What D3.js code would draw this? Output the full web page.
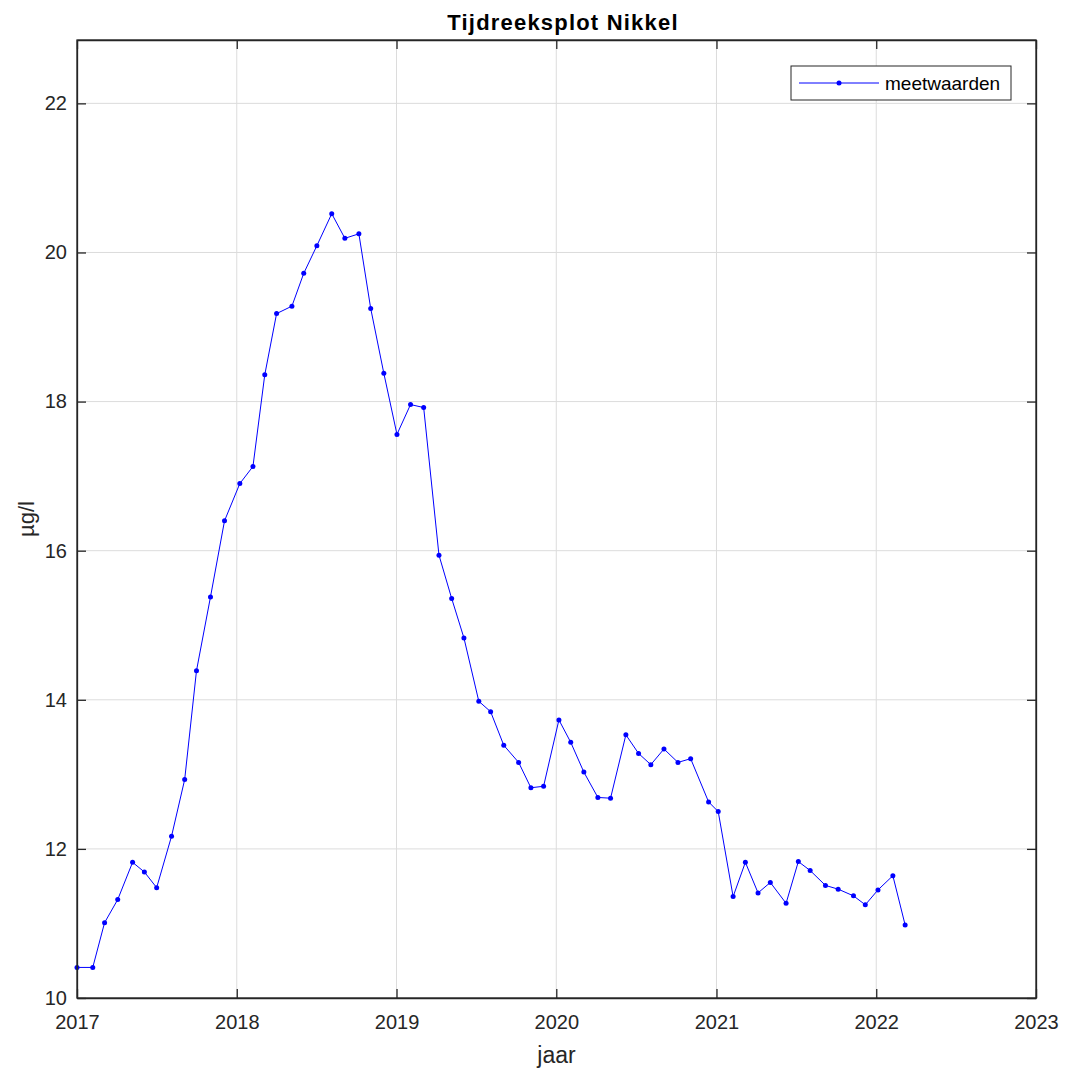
<!DOCTYPE html>
<html>
<head>
<meta charset="utf-8">
<script src="https://cdn.jsdelivr.net/npm/d3@7"></script>
<style>
  html, body { margin: 0; padding: 0; background: #fff; }
  svg { display: block; font-family: "Liberation Sans", Arial, Helvetica, sans-serif; }
</style>
</head>
<body>
<svg id="chart" width="1067" height="1071"></svg>
<script>
// Sample dates (roughly monthly) and nickel concentrations in µg/l
const dates = [
  "2017-01-01","2017-02-06","2017-03-05","2017-04-04","2017-05-08","2017-06-04",
  "2017-07-02","2017-08-05","2017-09-04","2017-10-01","2017-11-02","2017-12-04",
  "2018-01-08","2018-02-07","2018-03-06","2018-04-02","2018-05-07","2018-06-03",
  "2018-07-03","2018-08-06","2018-09-05","2018-10-07","2018-11-03","2018-12-03",
  "2019-01-02","2019-02-02","2019-03-04","2019-04-08","2019-05-07","2019-06-04",
  "2019-07-08","2019-08-04","2019-09-03","2019-10-07","2019-11-04","2019-12-03",
  "2020-01-07","2020-02-03","2020-03-04","2020-04-05","2020-05-04","2020-06-08",
  "2020-07-07","2020-08-04","2020-09-03","2020-10-05","2020-11-03","2020-12-14",
  "2021-01-05","2021-02-08","2021-03-08","2021-04-06","2021-05-04","2021-06-09",
  "2021-07-07","2021-08-03","2021-09-07","2021-10-06","2021-11-10","2021-12-07",
  "2022-01-05","2022-02-08","2022-03-08"
];
const values = [
  10.41, 10.41, 11.01, 11.32, 11.82, 11.69, 11.48, 12.17, 12.93, 14.39, 15.38, 16.40,
  16.90, 17.13, 18.36, 19.18, 19.28, 19.72, 20.09, 20.52, 20.19, 20.25, 19.25, 18.38,
  17.56, 17.96, 17.92, 15.94, 15.36, 14.83, 13.98, 13.84, 13.39, 13.16, 12.82, 12.84,
  13.73, 13.43, 13.03, 12.69, 12.68, 13.53, 13.28, 13.13, 13.34, 13.16, 13.21, 12.63,
  12.50, 11.36, 11.82, 11.41, 11.55, 11.27, 11.83, 11.71, 11.51, 11.46, 11.37, 11.25,
  11.45, 11.64, 10.98
];
const xTickYears = [2017, 2018, 2019, 2020, 2021, 2022, 2023];
const yTicks = [10, 12, 14, 16, 18, 20, 22];

const title = "Tijdreeksplot Nikkel";
const xLabel = "jaar";
const yLabel = "µg/l";
const seriesName = "meetwaarden";

const svg = d3.select("#chart");
const m = { left: 77, right: 1036, top: 40, bottom: 998 };
const axisColor = "#262626";
const gridColor = "#dcdcdc";
const lineColor = "#0000ff";
const tickLen = 9;

const parse = d3.timeParse("%Y-%m-%d");
const data = dates.map((d, i) => ({ date: parse(d), value: values[i] }));

const x = d3.scaleTime()
  .domain([new Date(2017, 0, 1), new Date(2023, 0, 1)])
  .range([m.left, m.right]);
const y = d3.scaleLinear()
  .domain([10, 22.85])
  .range([m.bottom, m.top]);

const xTicks = xTickYears.map(yr => new Date(yr, 0, 1));

// Grid
const grid = svg.append("g");
grid.selectAll("line.gx").data(xTicks.slice(1, -1)).join("line")
  .attr("x1", d => x(d)).attr("x2", d => x(d))
  .attr("y1", m.top).attr("y2", m.bottom)
  .attr("stroke", gridColor).attr("stroke-width", 1);
grid.selectAll("line.gy").data(yTicks.slice(1)).join("line")
  .attr("x1", m.left).attr("x2", m.right)
  .attr("y1", d => y(d)).attr("y2", d => y(d))
  .attr("stroke", gridColor).attr("stroke-width", 1);

// Series line and markers
const line = d3.line().x(d => x(d.date)).y(d => y(d.value));
svg.append("path").datum(data)
  .attr("d", line)
  .attr("fill", "none")
  .attr("stroke", lineColor)
  .attr("stroke-width", 1);
svg.append("g").selectAll("circle").data(data).join("circle")
  .attr("cx", d => x(d.date)).attr("cy", d => y(d.value))
  .attr("r", 2.5).attr("fill", lineColor);

// Axes: bottom and left with labels, top and right as mirrored inward ticks
const fontSize = 20;
const bottomAxis = d3.axisBottom(x).tickValues(xTicks)
  .tickFormat(d3.timeFormat("%Y")).tickSizeInner(-tickLen).tickSizeOuter(0).tickPadding(17);
const leftAxis = d3.axisLeft(y).tickValues(yTicks)
  .tickFormat(d3.format("d")).tickSizeInner(-tickLen).tickSizeOuter(0).tickPadding(10);
const topAxis = d3.axisTop(x).tickValues(xTicks).tickFormat("").tickSizeInner(-tickLen).tickSizeOuter(0);
const rightAxis = d3.axisRight(y).tickValues(yTicks).tickFormat("").tickSizeInner(-tickLen).tickSizeOuter(0);

function styleAxis(g) {
  g.select(".domain").attr("stroke", axisColor).attr("stroke-width", 1.3);
  g.selectAll(".tick line").attr("stroke", axisColor).attr("stroke-width", 1.3);
  g.selectAll(".tick text").attr("fill", axisColor)
    .style("font-size", fontSize + "px")
    .style("font-family", "'Liberation Sans', Arial, sans-serif");
}

svg.append("g").attr("transform", `translate(0,${m.bottom})`).call(bottomAxis).call(styleAxis);
svg.append("g").attr("transform", `translate(${m.left},0)`).call(leftAxis).call(styleAxis);
svg.append("g").attr("transform", `translate(0,${m.top})`).call(topAxis).call(styleAxis);
svg.append("g").attr("transform", `translate(${m.right},0)`).call(rightAxis).call(styleAxis);

// Full box edges so the domain reaches the corners
svg.append("rect")
  .attr("x", m.left).attr("y", m.top)
  .attr("width", m.right - m.left).attr("height", m.bottom - m.top)
  .attr("fill", "none").attr("stroke", axisColor).attr("stroke-width", 1.3);

// Title and axis labels
svg.append("text")
  .attr("x", 563).attr("y", 30)
  .attr("text-anchor", "middle")
  .attr("font-weight", "bold").attr("font-size", 22)
  .attr("letter-spacing", 1.2)
  .attr("fill", "#000")
  .text(title);
svg.append("text")
  .attr("x", (m.left + m.right) / 2).attr("y", 1063)
  .attr("text-anchor", "middle")
  .attr("font-size", 23).attr("fill", axisColor)
  .text(xLabel);
svg.append("text")
  .attr("transform", `translate(34,${(m.top + m.bottom) / 2}) rotate(-90)`)
  .attr("text-anchor", "middle")
  .attr("font-size", 22).attr("fill", axisColor)
  .text(yLabel);

// Legend
const lg = svg.append("g").attr("transform", "translate(791,66)");
lg.append("rect").attr("width", 220).attr("height", 34)
  .attr("fill", "#fff").attr("stroke", axisColor).attr("stroke-width", 1);
lg.append("line").attr("x1", 8).attr("x2", 88).attr("y1", 17).attr("y2", 17)
  .attr("stroke", lineColor).attr("stroke-width", 1);
lg.append("circle").attr("cx", 48).attr("cy", 17).attr("r", 2.5).attr("fill", lineColor);
lg.append("text").attr("x", 94).attr("y", 24)
  .attr("font-size", 19).attr("fill", "#000")
  .text(seriesName);
</script>
</body>
</html>
